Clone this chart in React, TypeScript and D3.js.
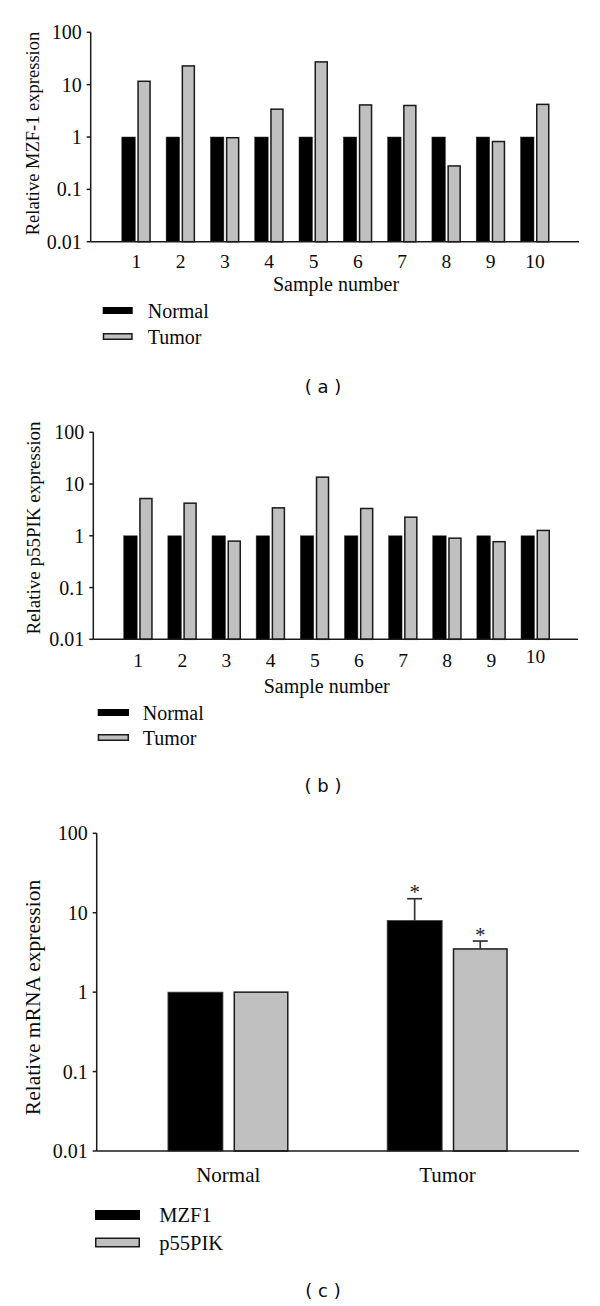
import React from "react";
import * as d3 from "d3";

// ---------- data ----------
const samples = ["1", "2", "3", "4", "5", "6", "7", "8", "9", "10"];
const mzfNormal = [1, 1, 1, 1, 1, 1, 1, 1, 1, 1];
const mzfTumor = [11.6, 22.8, 0.97, 3.4, 27.2, 4.1, 4.0, 0.28, 0.82, 4.2];
const pikNormal = [1, 1, 1, 1, 1, 1, 1, 1, 1, 1];
const pikTumor = [5.25, 4.27, 0.79, 3.47, 13.6, 3.37, 2.29, 0.9, 0.77, 1.27];

const groups = ["Normal", "Tumor"];
const meanMZF1 = [1, 8.0];
const meanP55 = [1, 3.5];
const errMZF1 = [0, 7.0];
const errP55 = [0, 0.9];
const sigMZF1 = [false, true];
const sigP55 = [false, true];

const yTicks = [0.01, 0.1, 1, 10, 100];
const yTickLabels = ["0.01", "0.1", "1", "10", "100"];

const SERIF = "'Liberation Serif', 'Times New Roman', serif";
const SANS = "'DejaVu Sans', Verdana, sans-serif";
const GRAY = "#c0c0c0";
const INK = "#1a1a1a";
const TXT = "#0a0a0a";

function YAxis({ y, x, fontSize }: { y: any; x: number; fontSize: number }) {
  const [y0, y1] = y.range();
  return (
    <g>
      <line x1={x} x2={x} y1={y1} y2={y0} stroke={INK} strokeWidth={1.5} />
      {yTicks.map((t, i) => (
        <g key={i}>
          <line x1={x - 4} x2={x} y1={y(t)} y2={y(t)} stroke={INK} strokeWidth={1.5} />
          <text
            x={x - 9}
            y={y(t)}
            textAnchor="end"
            dominantBaseline="central"
            fontFamily={SERIF}
            fontSize={fontSize}
            fill={TXT}
          >
            {yTickLabels[i]}
          </text>
        </g>
      ))}
    </g>
  );
}

function Legend({
  x, yNormal, yTumor, w, h, textX, labels, fontSize,
}: {
  x: number; yNormal: number; yTumor: number; w: number; h: number; textX: number; labels: string[]; fontSize: number;
}) {
  return (
    <g>
      <rect x={x} y={yNormal - h / 2} width={w} height={h} fill="#000" />
      <rect x={x + 0.75} y={yTumor - h / 2 + 0.75} width={w - 1.5} height={h - 1.5} fill={GRAY} stroke={INK} strokeWidth={1.5} />
      <text x={textX} y={yNormal} dominantBaseline="central" fontFamily={SERIF} fontSize={fontSize} fill={TXT}>
        {labels[0]}
      </text>
      <text x={textX} y={yTumor} dominantBaseline="central" fontFamily={SERIF} fontSize={fontSize} fill={TXT}>
        {labels[1]}
      </text>
    </g>
  );
}

function SamplePanel(props: {
  normal: number[]; tumor: number[]; yTop: number; yBottom: number; axisX: number; axisEnd: number;
  first: number; last: number; title: string; titleCenter: number; titleSize: number;
  tickY: number; xTitleX: number; xTitleY: number; legend: any; panelLabel: string; panelY: number;
  raisedTick?: string;
}) {
  const y = d3.scaleLog().domain([0.01, 100]).range([props.yBottom, props.yTop]);
  const x = d3.scalePoint<string>().domain(samples).range([props.first, props.last]);
  const bw = 13.5;
  return (
    <g>
      {samples.map((s, i) => {
        const c = x(s)!;
        return (
          <g key={s}>
            <rect x={c - 14.5} y={y(props.normal[i])} width={bw} height={props.yBottom - y(props.normal[i])} fill="#000" stroke="#333" strokeWidth={0.5} />
            <rect x={c + 1.75} y={y(props.tumor[i])} width={bw - 1.5} height={props.yBottom - y(props.tumor[i])} fill={GRAY} stroke={INK} strokeWidth={1.5} />
          </g>
        );
      })}
      <YAxis y={y} x={props.axisX} fontSize={20} />
      <line x1={props.axisX} x2={props.axisEnd} y1={props.yBottom} y2={props.yBottom} stroke={INK} strokeWidth={1.5} />
      {samples.map((s) => (
        <text
          key={s}
          x={x(s)!}
          y={props.tickY - (props.raisedTick === s ? 4 : 0)}
          textAnchor="middle"
          dominantBaseline="central"
          fontFamily={SERIF}
          fontSize={19.5}
          fill={TXT}
        >
          {s}
        </text>
      ))}
      <text x={props.xTitleX} y={props.xTitleY} textAnchor="middle" dominantBaseline="central" fontFamily={SERIF} fontSize={20} fill={TXT}>
        Sample number
      </text>
      <text
        transform={`translate(33,${props.titleCenter}) rotate(-90)`}
        textAnchor="middle"
        dominantBaseline="central"
        fontFamily={SERIF}
        fontSize={props.titleSize}
        fill={TXT}
      >
        {props.title}
      </text>
      <Legend {...props.legend} labels={["Normal", "Tumor"]} fontSize={20} />
      <text x={323} y={props.panelY} textAnchor="middle" dominantBaseline="central" fontFamily={SANS} fontSize={18} fill={TXT}>
        {props.panelLabel}
      </text>
    </g>
  );
}

function SummaryPanel() {
  const yTop = 833.3, yBottom = 1151, axisX = 96.7, axisEnd = 579;
  const y = d3.scaleLog().domain([0.01, 100]).range([yBottom, yTop]);
  const x = d3.scalePoint<string>().domain(groups).range([axisX, axisEnd]).padding(0.6);
  const bw = 55, gap = 5.3;
  return (
    <g>
      {groups.map((g, i) => {
        const c = x(g)!;
        const bx1 = c - gap - bw;
        const bx2 = c + gap;
        const t1 = y(meanMZF1[i]);
        const t2 = y(meanP55[i]);
        const e1 = y(meanMZF1[i] + errMZF1[i]);
        const e2 = y(meanP55[i] + errP55[i]);
        return (
          <g key={g}>
            <rect x={bx1} y={t1} width={bw} height={yBottom - t1} fill="#000" stroke="#444" strokeWidth={0.8} />
            <rect x={bx2 + 0.75} y={t2} width={bw - 1.5} height={yBottom - t2} fill={GRAY} stroke={INK} strokeWidth={1.5} />
            {errMZF1[i] > 0 && (
              <g stroke="#333" strokeWidth={1.7}>
                <line x1={bx1 + bw / 2} x2={bx1 + bw / 2} y1={t1} y2={e1} />
                <line x1={bx1 + bw / 2 - 7.5} x2={bx1 + bw / 2 + 7.5} y1={e1} y2={e1} />
              </g>
            )}
            {errP55[i] > 0 && (
              <g stroke="#333" strokeWidth={1.7}>
                <line x1={bx2 + bw / 2} x2={bx2 + bw / 2} y1={t2} y2={e2} />
                <line x1={bx2 + bw / 2 - 7.5} x2={bx2 + bw / 2 + 7.5} y1={e2} y2={e2} />
              </g>
            )}
            {sigMZF1[i] && (
              <text x={bx1 + bw / 2} y={e1 + 0.5} textAnchor="middle" fontFamily={SERIF} fontSize={21} fill="#222">*</text>
            )}
            {sigP55[i] && (
              <text x={bx2 + bw / 2} y={e2 + 0.5} textAnchor="middle" fontFamily={SERIF} fontSize={21} fill="#222">*</text>
            )}
            <text x={c} y={1175} textAnchor="middle" dominantBaseline="central" fontFamily={SERIF} fontSize={21} fill={TXT}>
              {g}
            </text>
          </g>
        );
      })}
      <YAxis y={y} x={axisX} fontSize={20} />
      <line x1={axisX} x2={axisEnd} y1={yBottom} y2={yBottom} stroke={INK} strokeWidth={1.5} />
      <text
        transform={`translate(33,997.5) rotate(-90)`}
        textAnchor="middle"
        dominantBaseline="central"
        fontFamily={SERIF}
        fontSize={21.5}
        fill={TXT}
      >
        Relative mRNA expression
      </text>
      <Legend x={95} yNormal={1215} yTumor={1242.5} w={45} h={10} textX={159.3} labels={["MZF1", "p55PIK"]} fontSize={20.5} />
      <text x={323} y={1290.7} textAnchor="middle" dominantBaseline="central" fontFamily={SANS} fontSize={18} fill={TXT}>
        ( c )
      </text>
    </g>
  );
}

export default function App() {
  return (
    <svg
      width={600}
      height={1306}
      viewBox="0 0 600 1306"
      style={{ position: "absolute", left: 0, top: 0, background: "#fff" }}
    >
      <rect x={0} y={0} width={600} height={1306} fill="#fff" />
      <SamplePanel
        normal={mzfNormal}
        tumor={mzfTumor}
        yTop={32.3}
        yBottom={241.7}
        axisX={90.7}
        axisEnd={579}
        first={136.3}
        last={535}
        title="Relative MZF-1 expression"
        titleCenter={133.5}
        titleSize={18.5}
        tickY={261.7}
        xTitleX={336}
        xTitleY={284}
        legend={{ x: 102.7, yNormal: 310.5, yTumor: 336.5, w: 30, h: 7, textX: 147.7 }}
        panelLabel="( a )"
        panelY={386.7}
      />
      <SamplePanel
        normal={pikNormal}
        tumor={pikTumor}
        yTop={432.3}
        yBottom={639.3}
        axisX={93.3}
        axisEnd={578}
        first={138.2}
        last={535.5}
        title="Relative p55PIK expression"
        titleCenter={528}
        titleSize={19}
        tickY={660}
        xTitleX={326.7}
        xTitleY={685.7}
        legend={{ x: 97.7, yNormal: 712.5, yTumor: 737.5, w: 31.3, h: 7, textX: 142.7 }}
        panelLabel="( b )"
        panelY={785}
        raisedTick="10"
      />
      <SummaryPanel />
    </svg>
  );
}
